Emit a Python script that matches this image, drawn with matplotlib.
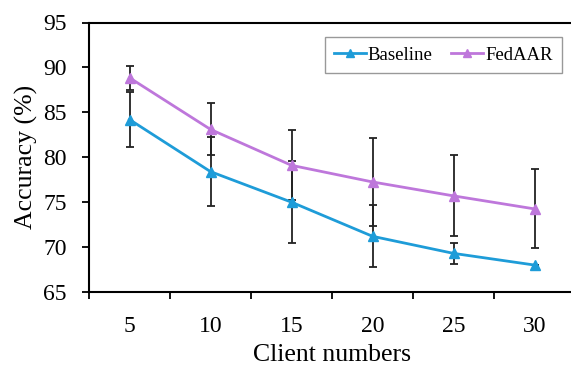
import matplotlib
matplotlib.use("Agg")
import matplotlib.pyplot as plt
import numpy as np

clients = ["5", "10", "15", "20", "25", "30"]
baseline = [84.2, 78.4, 75.0, 71.2, 69.3, 68.0]
baseline_err = [3.1, 3.8, 4.6, 3.45, 1.2, 0.0]
fedaar = [88.85, 83.1, 79.1, 77.25, 75.7, 74.25]
fedaar_err = [1.35, 2.9, 3.9, 4.9, 4.5, 4.4]

plt.rcParams["font.family"] = ["Liberation Serif", "DejaVu Serif"]

fig = plt.figure(figsize=(5.71, 3.67), dpi=100)
ax = fig.add_axes([89 / 571, 1 - 292 / 367, (575 - 89) / 571, (292 - 22.5) / 367])

x = np.arange(len(clients))
ax.errorbar(x, baseline, yerr=baseline_err, fmt="none", ecolor="#222222",
            elinewidth=1.3, capsize=3, capthick=1.3, zorder=1)
ax.errorbar(x, fedaar, yerr=fedaar_err, fmt="none", ecolor="#222222",
            elinewidth=1.3, capsize=3, capthick=1.3, zorder=1)
ax.plot(x, baseline, color="#1E9CD8", lw=2, marker="^", ms=7, label="Baseline", zorder=3)
ax.plot(x, fedaar, color="#BE77DB", lw=2, marker="^", ms=7, label="FedAAR", zorder=3)

ax.set_xlim(-0.5, len(clients) - 0.5)
ax.set_ylim(65, 95)
ax.set_yticks(range(65, 96, 5))
ax.set_xticks(x)
ax.set_xticklabels(clients)
ax.set_xticks(np.arange(-0.5, len(clients), 1), minor=True)
ax.tick_params(axis="x", which="major", length=0, labelsize=17, pad=17)
ax.tick_params(axis="x", which="minor", length=5, width=1.3, direction="out")
ax.tick_params(axis="y", length=5, width=1.3, direction="out", labelsize=17, pad=11)

for s in ["left", "bottom", "top"]:
    ax.spines[s].set_linewidth(1.5)
ax.spines["right"].set_visible(False)

ax.set_xlabel("Client numbers", fontsize=18.5, labelpad=5)
ax.set_ylabel("Accuracy (%)", fontsize=18.5, labelpad=4)

leg = ax.legend(loc="upper right", bbox_to_anchor=(0.973, 0.946), borderaxespad=0,
                ncol=2, fontsize=13.5,
                frameon=True, fancybox=False, edgecolor="#999999", framealpha=1,
                handlelength=1.7, handletextpad=0.1, columnspacing=1.0, borderpad=0.5,
                markerscale=0.8)
leg.get_frame().set_linewidth(1.0)

fig.savefig("out.png", dpi=100)
